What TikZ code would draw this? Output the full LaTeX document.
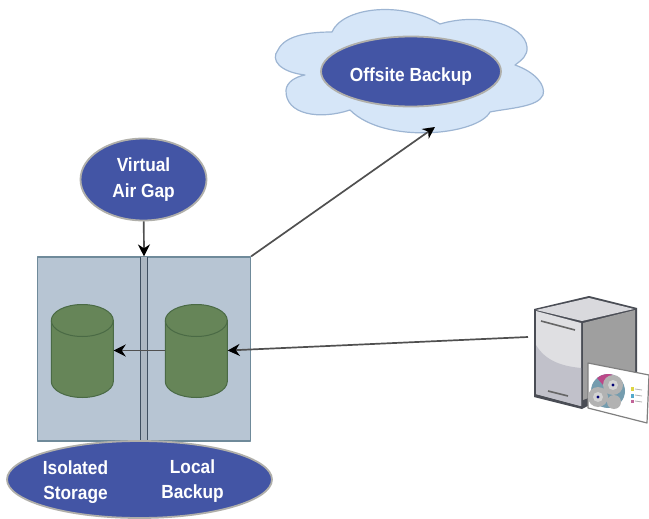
\documentclass[tikz,border=0pt]{standalone}
\usepackage{fontspec}
\setmainfont{Liberation Sans}
\newfontfamily\ovalfont[FakeStretch=0.91]{Liberation Sans Bold}
\usetikzlibrary{shapes.geometric,arrows.meta}
\definecolor{ovalblue}{HTML}{4355A5}
\definecolor{ovalrim}{HTML}{B0AFAA}
\definecolor{panelfill}{HTML}{B7C5D3}
\definecolor{panelrim}{HTML}{6F8A9A}
\definecolor{drumfill}{HTML}{668558}
\definecolor{drumrim}{HTML}{4A6A45}
\definecolor{cloudfill}{HTML}{D6E6F8}
\definecolor{cloudrim}{HTML}{9DB5D3}
\definecolor{arrowline}{HTML}{505050}
\definecolor{boxedge}{HTML}{4A4D55}
\definecolor{slitedge}{HTML}{3F4F60}
\tikzset{
  oval/.style={ellipse,draw=ovalrim,fill=ovalblue,line width=1.8pt,inner sep=0pt,text=white,font=\fontsize{19}{26}\ovalfont,align=center},
  ovaltext/.style={text=white,font=\fontsize{19}{25.5}\ovalfont,align=center,inner sep=0pt},
  drum/.style={rectangle,minimum width=62pt,minimum height=93pt,inner sep=0pt},
  drumline/.style={draw=drumrim,line width=1pt,fill=drumfill},
  flow/.style={->,draw=arrowline,line width=1.7pt},
}
\newcommand{\drumat}[1]{%
  \draw[drumline] (#1.west) ++(0,-30) arc[start angle=180,end angle=360,x radius=31,y radius=16]
    -- ++(0,61) arc[start angle=0,end angle=180,x radius=31,y radius=16] -- cycle;
  \draw[drumrim,line width=1pt] (#1.west) ++(0,-30) arc[start angle=180,end angle=0,x radius=31,y radius=16];
}
\begin{document}
\begin{tikzpicture}[x=1pt,y=-1pt,line join=round,>={Stealth[length=12pt,width=12pt,color=black]}]
  \useasboundingbox (0,0) rectangle (649,519);
  % cloud
  \draw[fill=cloudfill,draw=cloudrim,line width=1.2pt] (305,75)
    .. controls (280,72) and (270,60) .. (278,50)
    .. controls (285,35) and (310,32) .. (332,32)
    .. controls (342,8) and (400,0) .. (440,24)
    .. controls (480,12) and (525,25) .. (527,47)
    .. controls (528,55) and (522,60) .. (515,65)
    .. controls (535,72) and (546,85) .. (543,95)
    .. controls (538,107) and (510,108) .. (490,112)
    .. controls (478,135) and (385,145) .. (350,110)
    .. controls (320,120) and (285,115) .. (286,90)
    .. controls (287,82) and (295,77) .. (305,75) -- cycle;
  \coordinate (cloudfoot) at (435,127);
  \node[oval,minimum width=180pt,minimum height=70pt,text height=21pt,text depth=0pt] (offsite) at (411,71.5) {Offsite Backup};
  % storage panel
  \node[draw=panelrim,fill=panelfill,line width=1.2pt,minimum width=213pt,minimum height=184pt,inner sep=0pt] (panel) at (144,349) {};
  \fill[panelfill!80!gray] (141,257) rectangle (147,441);
  \draw[slitedge,line width=1.6pt] (140.5,257) -- (140.5,441) (147.5,257) -- (147.5,441);
  \node[drum] (drumiso) at (82.5,350.5) {};
  \node[drum] (drumlocal) at (196.5,350.5) {};
  \drumat{drumiso}
  \drumat{drumlocal}
  \node[oval,minimum width=265pt,minimum height=77pt] (tag) at (139.5,479.5) {};
  \node[ovaltext] (isotext) at (75.5,482) {Isolated\\Storage};
  \node[ovaltext] (localtext) at (192.5,481) {Local\\Backup};
  \node[oval,minimum width=126pt,minimum height=82pt] (airgap) at (143.5,179.5) {Virtual\\Air Gap};
  % server
  \fill[boxedge] (534,309) -- (589,296) -- (637,308) -- (637,380) -- (582,409) -- (534,397) -- cycle;
  \fill[fill=black!4!blue!6!gray!28] (536,310) -- (589,298) -- (634,309) -- (582,321) -- cycle;
  \fill[fill=blue!5!gray!24] (536,311) -- (581,323) -- (581,406) -- (536,394) -- cycle;
  \fill[fill=blue!8!gray!45] (536,345) .. controls (545,360) and (560,366) .. (581,368) -- (581,406) -- (536,394) -- cycle;
  \fill[fill=gray!75] (583,323) -- (635,310) -- (635,380) -- (583,400) -- cycle;
  \draw[gray!80!black,line width=1.6pt] (541,321) -- (575,330) (548,391) -- (568,396);
  % card with gears
  \draw[fill=white,draw=gray,line width=1.2pt] (588,363) -- (649,375) -- (647,423) -- (588,408) -- cycle;
  \fill[cyan!50!black!70] (608,391) circle (17pt);
  \fill[magenta!70!black!90] (608,391) -- (597.1,378) arc[start angle=-130,end angle=-70,radius=17] -- cycle;
  \fill[gray!60] (613,385) circle (10pt) (598,397) circle (10pt) (614,402) circle (7pt);
  \fill[gray!35] (598,397) circle (5pt) (613,385) circle (5pt);
  \fill[black!55!blue] (598,397) circle (1.6pt) (613,385) circle (1.6pt);
  \fill[yellow!70!gray] (631,387) rectangle (634,391);
  \fill[cyan!60!gray] (631,394) rectangle (634,398);
  \fill[magenta!50!gray] (631,400) rectangle (634,403);
  \draw[gray!60,line width=.8pt] (635,389) -- (642,390) (635,395) -- (642,396) (635,401) -- (642,402);
  \coordinate (serverport) at (528,337);
  % connectors
  \draw[flow] (airgap) -- (panel.north);
  \draw[flow] (panel.north east) -- (cloudfoot);
  \draw[flow] (serverport) -- (drumlocal.east);
  \draw[flow] (drumlocal.west) -- (drumiso.east);
\end{tikzpicture}
\end{document}
